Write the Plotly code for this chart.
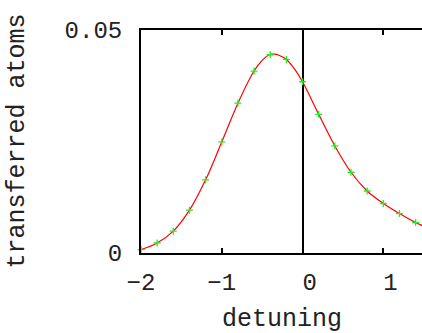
import plotly.graph_objects as go

# data
detuning = [-2.0, -1.8, -1.6, -1.4, -1.2, -1.0, -0.8, -0.6, -0.4, -0.2,
            0.0, 0.2, 0.4, 0.6, 0.8, 1.0, 1.2, 1.4]
transferred = [0.00076, 0.00225, 0.0049, 0.0096, 0.0164, 0.0249, 0.0336,
               0.0408, 0.04445, 0.0434, 0.0384, 0.0311, 0.0240, 0.0181,
               0.0139, 0.0111, 0.00885, 0.00682]

fit_x = [-2.0, -1.8, -1.6, -1.4, -1.2, -1.0, -0.8, -0.6, -0.5, -0.4, -0.35,
         -0.3, -0.2, -0.1, 0.0, 0.2, 0.4, 0.6, 0.8, 1.0, 1.2, 1.4, 1.5]
fit_y = [0.00076, 0.00225, 0.0049, 0.0096, 0.0164, 0.0249, 0.0336,
         0.0408, 0.0432, 0.04455, 0.0446, 0.0444, 0.0434, 0.0413, 0.0384,
         0.0311, 0.0240, 0.0181, 0.0139, 0.0111, 0.00885, 0.00682, 0.0060]

x_ticks = [-2, -1, 0, 1]
x_ticktext = ["\u22122", "\u22121", "\u00a00", "\u00a01"]
y_ticks = [0, 0.05]
y_ticktext = ["0", "0.05"]

FONT = "Liberation Mono"

fig = go.Figure()
fig.add_trace(go.Scatter(x=fit_x, y=fit_y, mode="lines",
                         line=dict(color="#ff0000", width=1.2, shape="spline", smoothing=1.0),
                         hoverinfo="skip", showlegend=False))
fig.add_trace(go.Scatter(x=detuning, y=transferred, mode="markers", cliponaxis=False,
                         marker=dict(symbol="cross-thin", size=5,
                                     line=dict(color="#22ee22", width=1.3)),
                         showlegend=False))

fig.update_layout(
    width=422, height=333,
    margin=dict(l=141, r=0, t=30, b=80),
    paper_bgcolor="white", plot_bgcolor="white",
    font=dict(family=FONT, size=24, color="#222222"),
    xaxis=dict(range=[-2, 1.479], tickvals=x_ticks, ticktext=x_ticktext,
               ticks="inside", ticklen=5, tickwidth=1.5, tickcolor="black",
               showline=True, linecolor="black", linewidth=2, mirror="ticks",
               showgrid=False, zeroline=True, zerolinecolor="black", zerolinewidth=2,
               ticklabelstandoff=6,
               tickfont=dict(family=FONT, size=24, color="#222222")),
    yaxis=dict(range=[0, 0.05], tickvals=y_ticks, ticktext=y_ticktext,
               ticks="", showline=True, linecolor="black", linewidth=2, mirror=False,
               showgrid=False, zeroline=False, ticklabelstandoff=12,
               tickfont=dict(family=FONT, size=24, color="#222222")),
    annotations=[
        dict(text="detuning", xref="paper", yref="paper", x=0.5, y=0,
             xanchor="center", yanchor="middle", yshift=-66, showarrow=False,
             font=dict(family=FONT, size=25, color="#222222")),
        dict(text="transferred atoms", xref="paper", yref="paper", x=0, y=0.5,
             xanchor="center", yanchor="middle", xshift=-124, textangle=-90,
             showarrow=False, font=dict(family=FONT, size=25, color="#222222")),
    ],
)

fig.write_html("out.html")
